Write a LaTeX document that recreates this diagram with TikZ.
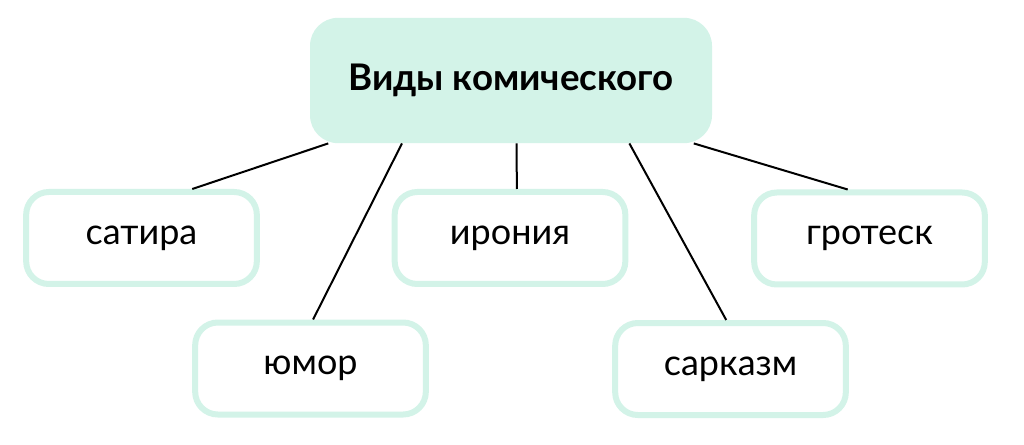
\documentclass[tikz,border=0pt]{standalone}
\usepackage{fontspec}
\setmainfont{Lato}
\definecolor{mint}{RGB}{211,243,232}

\begin{document}
\begin{tikzpicture}[x=0.75pt, y=-0.75pt,
    kind/.style={draw=mint, line width=4.5pt, fill=white, rounded corners=17pt,
        minimum width=173pt, minimum height=69pt, font=\fontsize{27}{32}\selectfont},
    link/.style={line width=1.5pt, black}]
    \useasboundingbox (0, 0) rectangle (1024, 445);
    \node[fill=mint, rounded corners=21pt, minimum width=301.5pt, minimum height=94pt,
        font=\fontsize{27.5}{33}\selectfont\bfseries] (top) at (511, 80.5) {Виды комического};

    \node[kind] (satire) at (141.5, 238) {сатира};
    \node[kind] (humor) at (310.5, 368.5) {юмор};
    \node[kind] (irony) at (510, 238) {ирония};
    \node[kind] (sarcasm) at (730.5, 369) {сарказм};
    \node[kind] (grotesque) at (869.5, 238.5) {гротеск};

    \draw[link] (top.199.6) -- (satire.44);
    \draw[link] (top.210.3) -- (humor.87);
    \draw[link] (top.275.5) -- (irony.82);
    \draw[link] (top.332.3) -- (sarcasm.95);
    \draw[link] (top.341.4) -- (grotesque.114.4);

\end{tikzpicture}
\end{document}
